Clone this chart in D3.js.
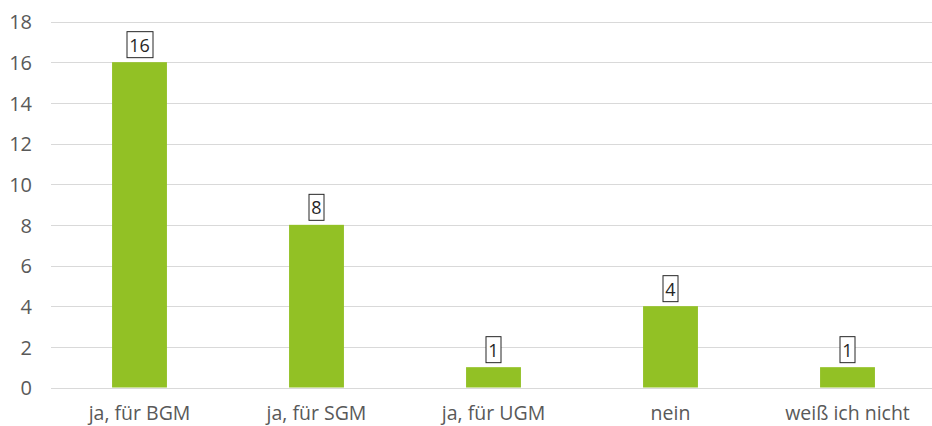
<!DOCTYPE html>
<html>
<head>
<meta charset="utf-8">
<script src="https://cdn.jsdelivr.net/npm/d3@7"></script>
<style>
  html, body { margin: 0; padding: 0; background: #fff; }
  svg { display: block; }
</style>
</head>
<body>
<svg id="chart" width="932" height="426"></svg>
<script>
// Answers and their counts
const categories = ["ja, für BGM", "ja, für SGM", "ja, für UGM", "nein", "weiß ich nicht"];
const counts = [16, 8, 1, 4, 1];
const yTicks = [0, 2, 4, 6, 8, 10, 12, 14, 16, 18];

(function draw() {
  const svg = d3.select("#chart");
  const W = 932;
  const plotLeft = 51, plotRight = 936, plotTop = 21.5, plotBottom = 387.5;
  const font = "'Open Sans', sans-serif";
  const textColor = "#595959";

  const x = d3.scaleBand().domain(categories).range([plotLeft, plotRight])
    .paddingInner(0.69).paddingOuter(0.345);
  const y = d3.scaleLinear().domain([0, 18]).range([plotBottom, plotTop]);

  // Horizontal gridlines
  svg.append("g").selectAll("line").data(yTicks).join("line")
    .attr("x1", plotLeft).attr("x2", W)
    .attr("y1", d => Math.round(y(d)) + 0.5).attr("y2", d => Math.round(y(d)) + 0.5)
    .attr("stroke", "#d9d9d9").attr("stroke-width", 1);

  // Y axis labels
  const yAxis = svg.append("g").attr("transform", `translate(${plotLeft - 19},0)`)
    .call(d3.axisLeft(y).tickValues(yTicks).tickSize(0).tickPadding(0));
  yAxis.select(".domain").remove();
  yAxis.selectAll("text").attr("font-family", font).attr("font-size", 20)
    .attr("fill", textColor).attr("dy", "0.36em");

  // Bars
  svg.append("g").selectAll("rect").data(categories).join("rect")
    .attr("x", d => x(d)).attr("width", x.bandwidth())
    .attr("y", (d, i) => y(counts[i]))
    .attr("height", (d, i) => y(0) - y(counts[i]))
    .attr("fill", "#92c125");

  // X axis labels
  const xAxis = svg.append("g").attr("transform", `translate(0,${plotBottom})`)
    .call(d3.axisBottom(x).tickSize(0).tickPadding(0));
  xAxis.select(".domain").remove();
  xAxis.selectAll("text").attr("font-family", font).attr("font-size", 19.5)
    .attr("fill", textColor).attr("dy", null).attr("y", 32);

  // Boxed value labels
  const labels = svg.append("g").selectAll("g").data(categories).join("g")
    .attr("transform", (d, i) => `translate(${x(d) + x.bandwidth() / 2},${y(counts[i]) - 4})`);
  labels.append("text")
    .attr("text-anchor", "middle").attr("y", -6.5)
    .attr("font-family", font).attr("font-size", 18).attr("fill", "#262626")
    .text((d, i) => counts[i]);
  labels.each(function() {
    const g = d3.select(this);
    const bb = g.select("text").node().getBBox();
    g.insert("rect", "text")
      .attr("x", Math.round(bb.x - 3) + 0.5).attr("y", -26.5)
      .attr("width", Math.round(bb.width + 5)).attr("height", 26)
      .attr("fill", "#fff").attr("stroke", "#262626").attr("stroke-width", 1);
  });
})();
</script>
</body>
</html>
